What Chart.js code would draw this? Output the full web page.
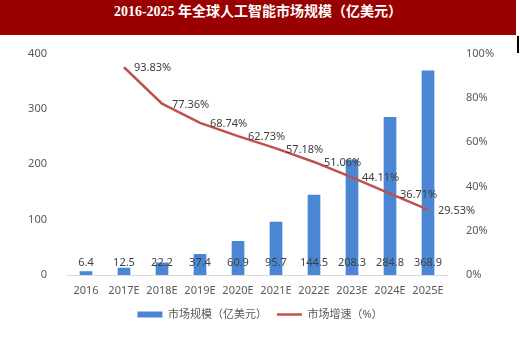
<!DOCTYPE html>
<html>
<head>
<meta charset="utf-8">
<script src="https://cdn.jsdelivr.net/npm/chart.js@4"></script>
<style>
  body { margin: 0; background: #fff; }
  #title {
    position: absolute; left: 0; top: 0; width: 516px; height: 35px;
    background: #990000; color: #fff; text-align: center; line-height: 35px;
    font: bold 14px "Liberation Serif", "Noto Sans CJK SC", serif;
  }
  #mark { position: absolute; left: 517px; top: 36px; width: 2px; height: 17px; background: #000; }
  #wrap { position: absolute; left: 0; top: 35px; width: 520px; height: 305px; }
</style>
</head>
<body>
<div id="title">2016-2025 年全球人工智能市场规模（亿美元）</div>
<div id="mark"></div>
<div id="wrap"><canvas id="myChart"></canvas></div>
<script>
const years = ['2016', '2017E', '2018E', '2019E', '2020E', '2021E', '2022E', '2023E', '2024E', '2025E'];
const marketSize = [6.4, 12.5, 22.2, 37.4, 60.9, 95.7, 144.5, 208.3, 284.8, 368.9];
const growthRate = [null, 93.83, 77.36, 68.74, 62.73, 57.18, 51.06, 44.11, 36.71, 29.53];
const leftTicks = [0, 100, 200, 300, 400];
const rightTicks = [0, 20, 40, 60, 80, 100];

const fontFamily = '"Noto Sans", "Noto Sans CJK SC", sans-serif';

// value labels: bar values sit just above the baseline, rate labels right of the points
const valueLabels = {
    id: 'valueLabels',
    afterDatasetsDraw(chart) {
        const ctx = chart.ctx;
        const base = chart.scales.y.getPixelForValue(0);
        ctx.save();
        ctx.font = '11px ' + fontFamily;
        ctx.fillStyle = '#404040';
        ctx.textBaseline = 'middle';

        ctx.textAlign = 'center';
        chart.getDatasetMeta(0).data.forEach((el, i) => {
            ctx.fillText(String(marketSize[i]), el.x, base - 12);
        });

        ctx.textAlign = 'left';
        chart.getDatasetMeta(1).data.forEach((el, i) => {
            if (growthRate[i] === null) return;
            ctx.fillText(growthRate[i].toFixed(2) + '%', el.x + 10, el.y + 1);
        });
        ctx.restore();
    }
};

const ctx = document.getElementById('myChart').getContext('2d');
const chart = new Chart(ctx, {
    type: 'bar',
    data: {
        labels: years,
        datasets: [
            {
                label: '市场规模（亿美元）',
                data: marketSize,
                backgroundColor: '#4a86d3',
                barThickness: 12,
                yAxisID: 'y',
                order: 2,
                pointStyle: 'rect',
            },
            {
                type: 'line',
                label: '市场增速（%）',
                data: growthRate,
                borderColor: '#c0504d',
                backgroundColor: '#c0504d',
                borderWidth: 2.5,
                pointRadius: 0,
                tension: 0,
                yAxisID: 'y1',
                order: 1,
                pointStyle: 'line',
            }
        ]
    },
    options: {
        responsive: true,
        maintainAspectRatio: false,
        animation: false,
        layout: { padding: { top: 15, left: 0, right: 0, bottom: 10 } },
        plugins: {
            tooltip: { enabled: false },
            legend: {
                display: true,
                position: 'bottom',
                labels: {
                    usePointStyle: true,
                    pointStyleWidth: 25,
                    boxHeight: 6,
                    padding: 10,
                    color: '#595959',
                    font: { size: 11, family: fontFamily },
                    sort: (a, b) => a.datasetIndex - b.datasetIndex,
                }
            }
        },
        scales: {
            x: {
                grid: { display: false, drawTicks: false },
                border: { display: true, color: '#d9d9d9', width: 1 },
                ticks: { color: '#595959', padding: 9, font: { size: 11, family: fontFamily } },
                afterFit: scale => { scale.height = 24; }
            },
            y: {
                position: 'left',
                min: 0,
                max: 400,
                grid: { display: false },
                border: { display: false },
                afterBuildTicks: scale => { scale.ticks = leftTicks.map(v => ({ value: v })); },
                ticks: { color: '#595959', padding: 12, font: { size: 11, family: fontFamily } },
                afterFit: scale => { scale.width = 67; }
            },
            y1: {
                position: 'right',
                min: 0,
                max: 100,
                grid: { display: false },
                border: { display: false },
                afterBuildTicks: scale => { scale.ticks = rightTicks.map(v => ({ value: v })); },
                ticks: {
                    color: '#595959', padding: 11, font: { size: 11, family: fontFamily },
                    callback: v => v + '%'
                },
                afterFit: scale => { scale.width = 73; }
            }
        }
    },
    plugins: [valueLabels]
});
</script>
</body>
</html>
